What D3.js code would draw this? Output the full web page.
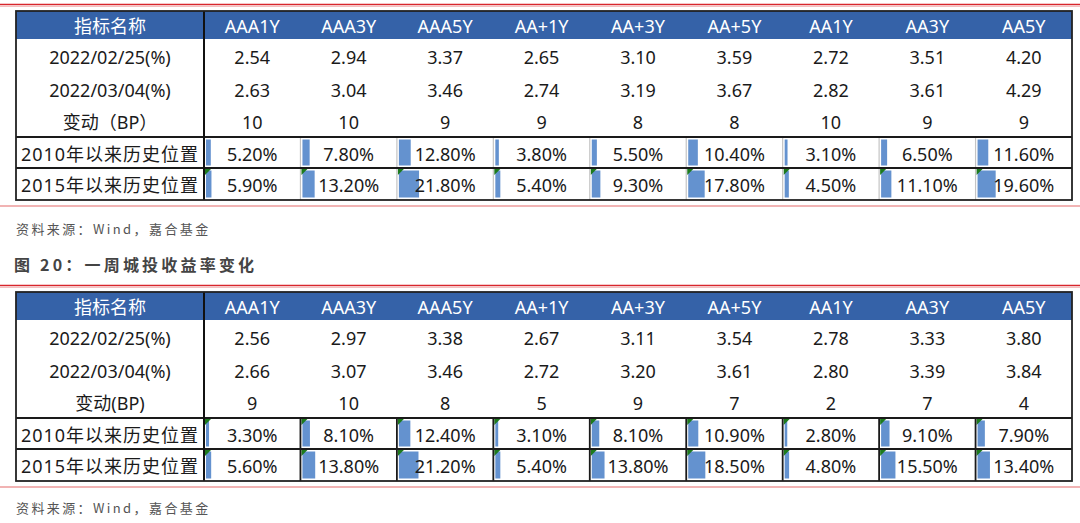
<!DOCTYPE html>
<html><head><meta charset="utf-8">
<script src="https://cdn.jsdelivr.net/npm/d3@7"></script>
<style>
html,body{margin:0;padding:0;background:#fff;}
svg{display:block;}
</style></head>
<body>
<svg id="c" width="1080" height="523"></svg>
<script>
// ---- data ----
const columns = ["AAA1Y","AAA3Y","AAA5Y","AA+1Y","AA+3Y","AA+5Y","AA1Y","AA3Y","AA5Y"];
const headerLabel = "指标名称";
const rowLabels1 = ["2022/02/25(%)","2022/03/04(%)","变动（BP）","2010年以来历史位置","2015年以来历史位置"];
const rowLabels2 = ["2022/02/25(%)","2022/03/04(%)","变动(BP)","2010年以来历史位置","2015年以来历史位置"];

const t1Rate0225 = [2.54,2.94,3.37,2.65,3.10,3.59,2.72,3.51,4.20];
const t1Rate0304 = [2.63,3.04,3.46,2.74,3.19,3.67,2.82,3.61,4.29];
const t1ChangeBP = [10,10,9,9,8,8,10,9,9];
const t1Pct2010  = [5.20,7.80,12.80,3.80,5.50,10.40,3.10,6.50,11.60];
const t1Pct2015  = [5.90,13.20,21.80,5.40,9.30,17.80,4.50,11.10,19.60];

const t2Rate0225 = [2.56,2.97,3.38,2.67,3.11,3.54,2.78,3.33,3.80];
const t2Rate0304 = [2.66,3.07,3.46,2.72,3.20,3.61,2.80,3.39,3.84];
const t2ChangeBP = [9,10,8,5,9,7,2,7,4];
const t2Pct2010  = [3.30,8.10,12.40,3.10,8.10,10.90,2.80,9.10,7.90];
const t2Pct2015  = [5.60,13.80,21.20,5.40,13.80,18.50,4.80,15.50,13.40];

const sourceText = "资料来源：Wind，嘉合基金";
const figTitle = "图 20：一周城投收益率变化";

// ---- drawing ----
const svg = d3.select("#c");
const FONT = "'Noto Sans','Noto Sans CJK SC',sans-serif";
const BLUE = "#3562a8", BAR = "#6492cf", GREEN = "#1d7a1d";

function redRule(y){
  svg.append("line").attr("x1",0).attr("x2",1080).attr("y1",y).attr("y2",y)
    .attr("stroke","#d8262c").attr("stroke-width",1.6);
  svg.append("line").attr("x1",0).attr("x2",1080).attr("y1",y+2).attr("y2",y+2)
    .attr("stroke","#f3c0c0").attr("stroke-width",1);
}
function thinRule(y){
  svg.append("line").attr("x1",0).attr("x2",1080).attr("y1",y).attr("y2",y)
    .attr("stroke","#ec9a9a").attr("stroke-width",1.5);
}

const xLeft = 16, xSplit = 204, xRight = 1072;
const x = d3.scaleBand().domain(columns).range([xSplit, xRight]).paddingInner(0);
const pctScale = d3.scaleLinear().domain([0,100]).range([0, x.bandwidth()-4]);

function drawTable(top, labels, r1, r2, bp, p10, p15, opts){
  const headerH = 28;
  const rowEdges = [top, top+headerH, top+headerH+34, top+headerH+66, top+headerH+98, top+headerH+129, top+headerH+161];
  const g = svg.append("g");
  // header
  g.append("rect").attr("x",xLeft).attr("y",rowEdges[0]).attr("width",xRight-xLeft).attr("height",headerH).attr("fill",BLUE);
  g.append("text").attr("x",(xLeft+xSplit)/2).attr("y",rowEdges[0]+headerH/2+1)
    .attr("text-anchor","middle").attr("dominant-baseline","central")
    .attr("fill","#fff").attr("font-family",FONT).attr("font-size",18).text(headerLabel);
  g.selectAll("text.hd").data(columns).join("text").attr("class","hd")
    .attr("x",d=>x(d)+x.bandwidth()/2).attr("y",rowEdges[0]+headerH/2+1)
    .attr("text-anchor","middle").attr("dominant-baseline","central")
    .attr("fill","#fff").attr("font-family",FONT).attr("font-size",18).text(d=>d);

  const rows = [
    {vals:r1, fmt:d3.format(".2f")},
    {vals:r2, fmt:d3.format(".2f")},
    {vals:bp, fmt:d3.format("d")},
    {vals:p10, fmt:d=>d3.format(".2f")(d)+"%", bar:true, tri:opts.tri10},
    {vals:p15, fmt:d=>d3.format(".2f")(d)+"%", bar:true, tri:true}
  ];
  rows.forEach((row,i)=>{
    const y0 = rowEdges[i+1], y1 = rowEdges[i+2], cy=(y0+y1)/2;
    if(row.bar){
      g.selectAll(null).data(row.vals).join("rect")
        .attr("x",(d,j)=>x(columns[j])+2).attr("y",y0+2.5)
        .attr("width",d=>pctScale(d)).attr("height",y1-y0-5)
        .attr("fill",BAR);
      if(row.tri){
        g.selectAll(null).data(row.vals).join("path")
          .attr("d",(d,j)=>{const xx=x(columns[j])+1, yy=y0+1; return `M${xx},${yy}H${xx+6}L${xx},${yy+6}Z`;})
          .attr("fill",GREEN);
      }
    }
    g.append("text").attr("x",(xLeft+xSplit)/2).attr("y",cy+1)
      .attr("text-anchor","middle").attr("dominant-baseline","central")
      .attr("fill","#1a1a1a").attr("font-family",FONT).attr("font-size",18)
      .attr("letter-spacing", i>=3 ? 1 : 0)
      .text(labels[i]);
    g.selectAll(null).data(row.vals).join("text")
      .attr("x",(d,j)=>x(columns[j])+x.bandwidth()/2).attr("y",cy+1)
      .attr("text-anchor","middle").attr("dominant-baseline","central")
      .attr("fill","#1a1a1a").attr("font-family",FONT).attr("font-size",18)
      .text(d=>row.fmt(d));
  });
  // inner separators in the lower rows
  g.selectAll(null).data(columns.slice(1)).join("line")
    .attr("x1",d=>x(d)).attr("x2",d=>x(d)).attr("y1",rowEdges[4]).attr("y2",rowEdges[6])
    .attr("stroke",opts.sepColor).attr("stroke-width",opts.sepWidth);
  // horizontal lines
  [rowEdges[4],rowEdges[5]].forEach(yy=>{
    g.append("line").attr("x1",xLeft).attr("x2",xRight).attr("y1",yy).attr("y2",yy)
      .attr("stroke","#1a1a1a").attr("stroke-width",1.8);
  });
  // first column divider
  g.append("line").attr("x1",xSplit).attr("x2",xSplit).attr("y1",rowEdges[0]).attr("y2",rowEdges[6])
    .attr("stroke","#111").attr("stroke-width",2);
  // outer border
  g.append("rect").attr("x",xLeft).attr("y",rowEdges[0]).attr("width",xRight-xLeft).attr("height",rowEdges[6]-rowEdges[0])
    .attr("fill","none").attr("stroke","#222").attr("stroke-width",1.8);
}

redRule(4.5);
drawTable(11, rowLabels1, t1Rate0225, t1Rate0304, t1ChangeBP, t1Pct2010, t1Pct2015, {tri10:false, sepColor:"#c4c4c4", sepWidth:1.2});
thinRule(206);
svg.append("text").attr("x",16).attr("y",228).attr("dominant-baseline","central")
  .attr("font-family","'Noto Sans CJK SC',sans-serif").attr("font-size",13).attr("letter-spacing",2.4)
  .attr("fill","#555").text(sourceText);
svg.append("text").attr("x",14).attr("y",264).attr("dominant-baseline","central")
  .attr("font-family","'Noto Sans CJK SC',sans-serif").attr("font-size",16).attr("font-weight","bold").attr("letter-spacing",3.2)
  .attr("fill","#444").text(figTitle);
redRule(285.5);
drawTable(292, rowLabels2, t2Rate0225, t2Rate0304, t2ChangeBP, t2Pct2010, t2Pct2015, {tri10:true, sepColor:"#1a1a1a", sepWidth:1.8});
thinRule(487);
svg.append("text").attr("x",16).attr("y",507).attr("dominant-baseline","central")
  .attr("font-family","'Noto Sans CJK SC',sans-serif").attr("font-size",13).attr("letter-spacing",2.4)
  .attr("fill","#555").text(sourceText);
</script>
</body></html>
